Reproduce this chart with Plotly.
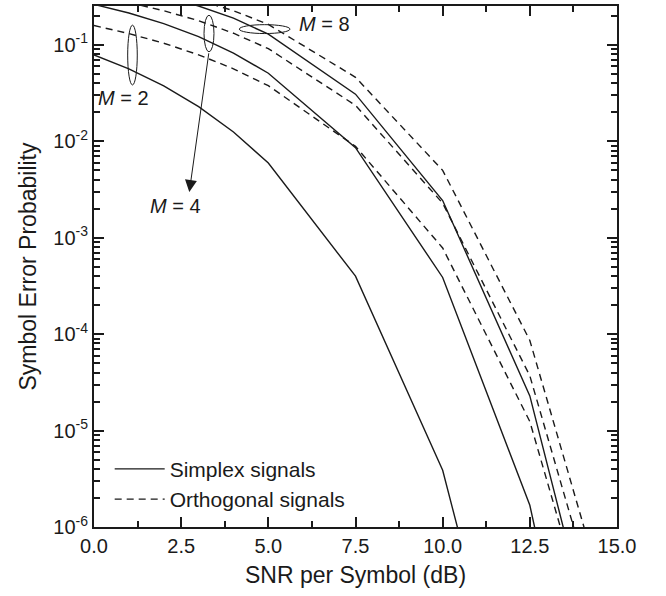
import plotly.graph_objects as go

# ---------------- data ----------------
snr_db = [0, 1, 2, 3, 4, 5, 7.5, 10, 12.5, 15]

simplex_m2 = [0.0786, 0.0563, 0.0375, 0.0229, 0.0125, 0.00595, 3.99e-4, 3.87e-6, 1.26e-9, None]
simplex_m4 = [0.263, 0.214, 0.166, 0.122, 0.0823, 0.0508, 8.6e-3, 3.87e-4, 1.68e-6, 1.26e-10]
simplex_m8 = [0.44, 0.380, 0.317, 0.253, 0.189, 0.129, 0.0308, 2.43e-3, 2.29e-5, 6.4e-9]

orth_m2 = [0.1587, 0.1309, 0.1040, 0.0789, 0.0565, 0.0377, 8.86e-3, 7.83e-4, 1.24e-5, 9.4e-9]
orth_m4 = [0.322, 0.275, 0.226, 0.178, 0.132, 0.0914, 0.0236, 2.28e-3, 3.7e-5, 2.8e-8]
orth_m8 = [0.472, 0.415, 0.354, 0.291, 0.226, 0.163, 0.0461, 5.0e-3, 8.6e-5, 6.6e-8]

x_ticks = [0, 2.5, 5, 7.5, 10, 12.5, 15]
x_tick_labels = ["0.0", "2.5", "5.0", "7.5", "10.0", "12.5", "15.0"]
y_exponents = [-6, -5, -4, -3, -2, -1]
y_ticks = [10.0 ** e for e in y_exponents]
y_tick_labels = ["10<sup>%d</sup>" % e for e in y_exponents]
y_minor = [k * 10.0 ** e for e in range(-6, 0) for k in range(2, 10)]

FONT = "Liberation Sans, Arial, Helvetica, sans-serif"
INK = "#1a1a1a"

fig = go.Figure()
series = [
    ("Simplex signals", simplex_m2, "solid", True),
    ("Simplex signals", simplex_m4, "solid", False),
    ("Simplex signals", simplex_m8, "solid", False),
    ("Orthogonal signals", orth_m2, "7px,5px", True),
    ("Orthogonal signals", orth_m4, "7px,5px", False),
    ("Orthogonal signals", orth_m8, "7px,5px", False),
]
for name, vals, dash, show in series:
    fig.add_trace(go.Scatter(
        x=snr_db, y=vals, mode="lines", name=name, legendgroup=name,
        showlegend=show, line=dict(color=INK, width=1.4, dash=dash),
    ))

# ellipses grouping the curve pairs (data coordinates)
ellipses = [
    (0.966, 1.241, 0.0384, 0.160),   # M = 2
    (3.155, 3.441, 0.0847, 0.203),   # M = 4
    (4.167, 5.621, 0.131, 0.162),    # M = 8
]
for x0, x1, y0, y1 in ellipses:
    fig.add_shape(type="circle", xref="x", yref="y", x0=x0, x1=x1, y0=y0, y1=y1,
                  line=dict(color=INK, width=1))

# labels (log10 units on the y axis for annotations)
fig.add_annotation(x=0.86, y=-1.548, text="<i>M</i> = 2", showarrow=False,
                   font=dict(size=20, family=FONT, color=INK))
fig.add_annotation(x=2.35, y=-2.674, text="<i>M</i> = 4", showarrow=False,
                   font=dict(size=20, family=FONT, color=INK))
fig.add_annotation(x=6.6, y=-0.788, text="<i>M</i> = 8", showarrow=False,
                   font=dict(size=20, family=FONT, color=INK))
# arrow from the M = 4 ellipse
fig.add_annotation(x=2.733, y=-2.526, ax=3.298, ay=-1.072, axref="x", ayref="y",
                   text="", showarrow=True, arrowhead=2, arrowsize=2.4,
                   arrowwidth=1, arrowcolor=INK, standoff=0)

fig.update_layout(
    width=666, height=596,
    margin=dict(l=94, r=49, t=4, b=69),
    plot_bgcolor="white", paper_bgcolor="white",
    font=dict(family=FONT, color=INK, size=20),
    showlegend=True,
    legend=dict(x=0.03, y=0.014, xanchor="left", yanchor="bottom",
                bgcolor="rgba(0,0,0,0)", font=dict(size=21, family=FONT),
                itemwidth=50, tracegroupgap=0),
)
fig.update_xaxes(
    range=[0, 15], tickvals=x_ticks, ticktext=x_tick_labels,
    ticks="inside", ticklen=10, tickwidth=1.6, tickcolor=INK,
    showline=True, linewidth=2, linecolor=INK, mirror="ticks",
    showgrid=False, zeroline=False, tickfont=dict(size=20),
    minor=dict(ticks="inside", ticklen=6, tickwidth=1.6, tickcolor=INK,
               tick0=0, dtick=1.25, showgrid=False),
    title=dict(text="SNR per Symbol (dB)", font=dict(size=23), standoff=11),
)
fig.update_yaxes(
    type="log", range=[-6, -0.597], tickvals=y_ticks, ticktext=y_tick_labels,
    ticks="inside", ticklen=10, tickwidth=1.6, tickcolor=INK,
    showline=True, linewidth=2, linecolor=INK, mirror="ticks",
    showgrid=False, zeroline=False, tickfont=dict(size=20),
    minor=dict(ticks="inside", ticklen=6, tickwidth=1.6, tickcolor=INK,
               tickvals=y_minor, showgrid=False),
    title=dict(text="Symbol Error Probability", font=dict(size=23), standoff=10),
)

fig.write_html("out.html")
